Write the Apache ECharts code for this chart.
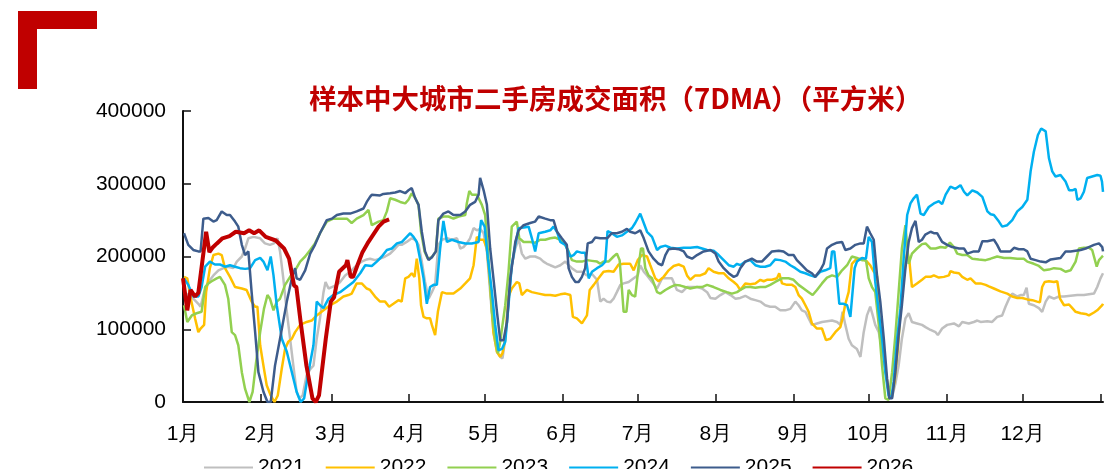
<!DOCTYPE html>
<html>
<head>
<meta charset="utf-8">
<script src="https://cdn.jsdelivr.net/npm/echarts@6/dist/echarts.min.js"></script>
<style>
  html, body { margin: 0; padding: 0; background: #fff; }
  #area { width: 1109px; height: 469px; }
</style>
</head>
<body>
<div id="area"></div>
<script>
// x = day of year, y = 平方米
const monthStarts = [0, 31, 59, 90, 120, 151, 181, 212, 243, 273, 304, 334];
const monthNames = ['1月', '2月', '3月', '4月', '5月', '6月', '7月', '8月', '9月', '10月', '11月', '12月'];
const yearNames = ['2021', '2022', '2023', '2024', '2025', '2026'];
const yearColors = ['#BFBFBF', '#FFC000', '#92D050', '#00B0F0', '#3D5C8C', '#C00000'];

const d2021 = [[0.4,151000],[2.1,147000],[4.1,142000],[6.1,135000],[7,131000],[8.4,151000],[10.1,165000],[12.1,174000],[14.1,181000],[16.1,184000],[18,186000],[20,184000],[21.4,193000],[23.4,200000],[24.7,211000],[26,225000],[28,227000],[30.7,225000],[32.6,218000],[34.6,216000],[36.2,218000],[37.6,225000],[38.6,207000],[39.9,170000],[41.3,124000],[42.6,87000],[43.9,50000],[45.2,14000],[46.3,5000],[47.6,9000],[49.2,37000],[50.8,46000],[51.9,50000],[53.2,87000],[54.5,115000],[55.9,151000],[56.7,165000],[57.9,156000],[59.2,158000],[61.2,161000],[62.5,165000],[64.5,174000],[66.5,179000],[68.5,186000],[71.1,193000],[73.1,196000],
  [74.4,197000],[76.4,195000],[78.4,197000],[80.4,200000],[82.4,204000],[84.4,211000],[85.7,216000],[87,216000],[89,220000],[91,225000],[92.4,223000],[93.7,216000],[95,193000],[96.3,165000],[97.7,142000],[99,151000],[100.3,161000],[101.6,216000],[103,223000],[105,225000],[107,223000],[109,225000],[110.3,211000],[111.6,213000],[112.9,218000],[114.2,225000],[115.6,239000],[116.9,236000],[118.2,238000],[119.6,232000],[120.9,207000],[122.2,151000],[123.5,96000],[124.9,69000],[126.2,62000],[127.1,60000],[128.2,87000],[129.5,142000],[130.8,188000],[132.2,211000],[133.5,225000],[134.8,204000],[136.2,197000],[138.1,200000],[140.1,200000],[142.1,197000],[143.4,193000],[144.8,190000],[146.1,188000],
  [148.1,185000],[150.1,188000],[152.1,193000],[153.4,188000],[154.7,184000],[156.7,179000],[158.7,179000],[160.7,174000],[162.7,176000],[164.7,168000],[166,138000],[167.3,142000],[168.7,138000],[170,137000],[171.3,142000],[172.6,151000],[174,161000],[175.3,163000],[177.3,165000],[179.3,170000],[180.9,174000],[181.9,188000],[183.3,179000],[184.6,174000],[186.6,165000],[188.6,156000],[190.6,170000],[192.5,170000],[194.5,170000],[196.5,154000],[198.5,151000],[200.5,158000],[202.5,158000],[204.5,158000],[206.5,156000],[208.5,151000],[209.8,143000],[211.8,142000],[213.8,147000],[215.8,151000],[217.8,147000],[219.8,142000],
  [221.7,143000],[223.7,146000],[225.7,142000],[227.7,140000],[229.7,138000],[231.6,133000],[233.6,131000],[235.6,131000],[237.6,126000],[239.6,126000],[241.6,128000],[243.6,138000],[244.9,133000],[246.2,126000],[247.6,124000],[248.9,115000],[250.2,106000],[252.2,108000],[254.2,110000],[256.2,111000],[258.2,112000],[260.2,110000],[261.5,106000],[262.4,124000],[263.5,106000],[264.8,87000],[266.1,78000],[268.1,73000],[269.5,62000],[270.8,96000],[272.1,119000],[273.4,131000],[274.4,119000],[275.4,106000],[276.8,96000],[278.1,73000],[279.4,46000],[280.7,14000],[282.1,7000],[283.4,25000],[284.7,50000],[286,87000],[287.4,115000],[288.7,122000],[290,110000],[292,108000],[294,106000],
  [295.4,103000],[297.4,99000],[299.4,96000],[300.3,92000],[302,101000],[304,106000],[306.7,108000],[308.7,104000],[310,110000],[312.6,108000],[314.6,110000],[316,112000],[317.3,110000],[320,111000],[321.9,110000],[323.9,117000],[325.9,119000],[327.2,131000],[328.6,142000],[329.9,149000],[331.9,145000],[333.2,147000],[334.5,147000],[335.6,157000],[336.5,135000],[338.5,133000],[340.5,129000],[341.8,124000],[343.2,138000],[344.5,145000],[346.5,142000],[348.5,145000],[350.5,145000],[353.1,146000],[355.8,147000],[358.4,147000],[360.4,148000],[362.4,149000],[363.7,158000],[365,170000],[366,177000]];

const d2022 = [[0.4,172000],[1.7,170000],[3.1,142000],[4.8,115000],[6.1,96000],[7,101000],[8.4,106000],[9.2,151000],[10.7,184000],[12.1,202000],[14.1,204000],[15.4,202000],[16.7,184000],[18.7,172000],[20.7,158000],[23.4,156000],[25.3,154000],[27.3,138000],[28.7,131000],[29.6,131000],[30.7,78000],[32,50000],[33.3,23000],[34.9,9000],[36.4,0],[37.7,9000],[39.3,46000],[40.6,73000],[41.9,83000],[43.3,87000],[44.6,96000],[46.6,106000],[49.2,110000],[51.2,112000],[53.2,119000],[55.9,126000],[58.5,133000],[61.2,138000],[63.8,145000],[65.8,147000],[67.1,149000],[69.1,163000],[71.1,163000],[73.1,156000],
  [74.4,154000],[76.4,145000],[78.4,138000],[80.4,138000],[82,131000],[83.7,135000],[85.7,140000],[87,138000],[88.4,170000],[89.7,172000],[91,177000],[92.1,172000],[93,197000],[94,170000],[94.7,133000],[95.7,117000],[97,115000],[98.3,115000],[99,106000],[100.3,92000],[101.4,124000],[103,151000],[105,149000],[107.6,149000],[110.3,156000],[112.3,163000],[114.2,170000],[115.6,188000],[116.9,227000],[118.2,223000],[119.6,223000],[120.9,211000],[122.2,161000],[123.5,96000],[124.9,69000],[126.2,62000],[127.1,67000],[128.2,87000],[129.5,145000],[130.8,156000],[132.8,165000],[133.8,163000],[134.8,147000],[136.8,154000],[138.8,151000],[141.5,149000],[144.1,147000],[146.1,147000],
  [148.1,146000],[150.1,148000],[152.1,149000],[154.1,147000],[155.1,117000],[156.7,115000],[158.7,108000],[160.7,119000],[161.8,154000],[163.4,161000],[165.3,170000],[167.3,179000],[169.3,180000],[171.3,179000],[173.3,189000],[175.3,190000],[177.9,190000],[179.3,181000],[180.9,195000],[182.6,202000],[184.6,200000],[185.9,188000],[187.9,170000],[189.2,166000],[191.2,172000],[193.2,181000],[195.2,187000],[197.2,189000],[199.2,186000],[200.5,174000],[201.8,168000],[203.8,174000],[205.8,174000],[207.8,177000],[209.1,184000],[211.1,179000],[213.1,177000],[215.1,177000],[217.1,170000],[219.1,165000],[220.4,161000],
  [221.7,154000],[223.7,163000],[225.7,162000],[227.7,163000],[229.7,168000],[231,166000],[232.3,168000],[234.3,168000],[236.3,170000],[237.2,177000],[238.3,163000],[240.3,161000],[242.3,161000],[243.6,158000],[244.9,147000],[246.2,142000],[247.6,133000],[248.9,124000],[250.2,108000],[252.2,101000],[254.2,101000],[255.8,85000],[257.5,87000],[259.5,96000],[261.5,103000],[262.4,115000],[263.5,135000],[264.8,151000],[266.1,190000],[267.5,195000],[269.5,197000],[270.8,196000],[272.1,193000],[273.4,188000],[274.8,179000],[276.1,174000],[277,115000],[278.1,87000],[279.4,46000],[280.7,14000],[281.8,5000],[283.1,28000],[284.5,78000],[285.4,124000],[286.7,170000],[288.1,207000],[289,193000],[290,158000],[292,163000],[294,168000],
  [295.4,172000],[297.4,172000],[298.7,174000],[300.7,171000],[302.7,172000],[304.7,174000],[305.3,180000],[306.7,178000],[308.7,177000],[310,172000],[312,168000],[313.3,170000],[315.3,163000],[317.3,163000],[319.3,161000],[320.6,159000],[322.6,156000],[325.2,152000],[327.9,149000],[329.9,145000],[331.9,143000],[333.9,143000],[335.9,141000],[337.9,140000],[339.8,138000],[340.9,137000],[341.8,158000],[342.8,165000],[344.5,166000],[346.5,165000],[347.8,166000],[348.9,142000],[350.5,133000],[352.5,134000],[353.8,129000],[355.1,124000],[357.1,122000],[359.1,121000],[360.4,119000],[362.4,123000],[363.7,126000],[365.7,133000],[366,135000]];

const d2023 = [[0.4,133000],[1.7,110000],[3.5,119000],[5.4,122000],[7.4,124000],[8.8,158000],[10.1,163000],[11.4,166000],[13.4,170000],[14.7,172000],[16.7,161000],[18,142000],[19.4,96000],[20.7,92000],[22,78000],[23.4,41000],[24.7,18000],[26.4,0],[27.7,14000],[29.1,55000],[30.7,96000],[32.2,128000],[33.6,147000],[34.6,142000],[36,126000],[37.3,138000],[38.6,142000],[40.6,161000],[42.6,172000],[44.6,181000],[46.6,193000],[48.6,200000],[50.6,209000],[52.5,218000],[54.5,232000],[57.2,248000],[59.8,252000],[62.5,252000],[65.2,252000],[67.1,246000],[69.1,252000],[71.8,257000],[73.8,264000],
  [75.1,243000],[77.8,248000],[79.7,250000],[81.1,262000],[82.4,280000],[84.4,278000],[86.4,275000],[88.4,273000],[89.7,278000],[91,287000],[92.4,280000],[93.7,271000],[94.7,234000],[96.1,207000],[97.4,197000],[99,199000],[100.6,207000],[101.6,252000],[103.6,255000],[105.6,255000],[107.6,252000],[109.6,255000],[112.3,257000],[112.9,273000],[113.9,290000],[114.9,285000],[116.9,285000],[118.9,271000],[120.2,257000],[121.6,193000],[122.9,124000],[124.2,87000],[125.3,67000],[126.2,83000],[127.1,106000],[128.2,133000],[129.5,179000],[130.8,241000],[132.8,248000],[133.8,225000],[135.5,220000],[138.1,220000],[140.1,219000],[142.1,223000],[144.1,223000],[146.1,225000],
  [148.1,226000],[150.1,223000],[152.1,216000],[153.4,207000],[154.7,195000],[156.7,193000],[158.7,193000],[160.7,195000],[162.7,194000],[164.7,193000],[166,190000],[167.3,193000],[169.3,193000],[171.3,200000],[172.6,204000],[173.7,195000],[174.6,156000],[175.3,124000],[176.4,124000],[177.3,154000],[178.6,147000],[179.9,145000],[181.3,188000],[182.2,211000],[183,211000],[183.9,184000],[185.2,174000],[186.6,170000],[188.6,151000],[189.9,149000],[191.9,154000],[193.9,158000],[195.9,161000],[197.9,160000],[199.8,158000],[201.8,156000],[204.5,158000],[206.5,158000],[208.5,161000],[211.1,158000],[213.8,154000],[216.4,151000],[218.4,149000],[220.4,151000],
  [221.7,154000],[223.7,158000],[225.7,158000],[227.7,157000],[229.7,158000],[231.6,158000],[233.6,161000],[235.6,165000],[238.3,170000],[240.9,170000],[242.9,168000],[244.9,161000],[246.9,156000],[248.9,151000],[250.5,147000],[252.2,154000],[254.2,163000],[256.2,171000],[258.2,174000],[260.2,172000],[262.2,181000],[264.2,188000],[266.1,200000],[268.1,198000],[270.1,195000],[271.7,195000],[272.8,170000],[274.1,158000],[275.4,151000],[276.8,106000],[278.1,50000],[279.4,5000],[280.7,3000],[282.1,41000],[283.4,92000],[284.7,151000],[286,211000],[287.4,243000],[288.7,190000],[290,204000],[292,211000],[294,217000],
  [295.4,218000],[297.4,211000],[299.4,211000],[301.4,213000],[303.4,212000],[305.1,219000],[306.7,213000],[308,204000],[310,202000],[312,202000],[314,197000],[316.6,196000],[319.3,195000],[321.3,197000],[323.9,200000],[326.6,198000],[329.2,198000],[331.9,197000],[334.5,197000],[335.9,193000],[338.5,190000],[340.5,187000],[342.5,181000],[344.5,182000],[346.5,184000],[349.1,183000],[351.1,179000],[353.1,181000],[355.1,193000],[356.4,211000],[358.4,212000],[360.4,212000],[361.7,209000],[363.5,186000],[364.4,195000],[365.7,200000],[366,201000]];

const d2024 = [[0.4,170000],[2.1,161000],[4.1,145000],[6.1,145000],[7.4,158000],[8.8,186000],[10.7,193000],[12.7,189000],[14.7,189000],[16.7,186000],[18.7,188000],[20.7,186000],[22.7,184000],[24.7,183000],[26.7,184000],[28.7,195000],[30.7,198000],[32,193000],[33.6,181000],[34.9,200000],[36,174000],[37.3,133000],[39.3,87000],[41.3,69000],[43.3,41000],[45.2,14000],[46.8,0],[48.2,5000],[49.9,41000],[51.9,78000],[53.2,138000],[54.5,133000],[55.9,129000],[57.9,142000],[59.8,147000],[62.5,151000],[65.2,158000],[67.8,165000],[70.5,177000],[72.5,188000],
  [75.1,187000],[77.1,193000],[79.1,200000],[81.1,209000],[83.1,211000],[85.1,218000],[87.1,220000],[89,227000],[90.4,232000],[91.7,227000],[93,220000],[94.3,197000],[95.7,170000],[97,135000],[98.3,158000],[99.7,161000],[101,161000],[102.3,211000],[103.6,249000],[105,220000],[107,223000],[109.6,220000],[112.3,218000],[114.9,218000],[117.6,220000],[118.6,250000],[120,241000],[121.3,197000],[122.9,151000],[124.2,106000],[125.5,71000],[126.9,73000],[128.2,83000],[129.5,133000],[130.8,188000],[132.2,216000],[133.5,239000],[135.5,240000],[137.5,241000],[138.8,225000],[140.1,207000],[141.5,232000],[144.1,234000],[146.1,236000],
  [147.4,241000],[148.8,234000],[150.1,220000],[152.1,216000],[154.1,200000],[155.4,202000],[156.7,207000],[158.7,205000],[160,205000],[161.4,170000],[162.7,179000],[164.7,184000],[166.7,188000],[168,193000],[168.9,235000],[170.6,232000],[172.6,227000],[174.6,229000],[176.6,234000],[178.6,239000],[179.9,246000],[181.9,259000],[183.3,246000],[184.6,234000],[186.6,227000],[188.6,209000],[189.9,213000],[191.9,215000],[193.9,212000],[196.5,211000],[199.2,212000],[201.8,212000],[204.5,213000],[206.5,211000],[208.5,209000],[211.1,208000],[213.1,202000],[215.1,195000],[217.1,188000],[219.1,186000],[220.4,190000],
  [221.7,188000],[223.7,193000],[225.7,195000],[227.7,188000],[229.7,186000],[231.6,186000],[233.6,188000],[235.6,196000],[237.6,195000],[239.6,193000],[241.6,188000],[243.6,184000],[245.6,179000],[247.6,177000],[249.6,174000],[251.5,172000],[253.5,179000],[255.5,181000],[257.5,184000],[258.2,207000],[259.1,207000],[260.2,170000],[261.1,135000],[262.8,135000],[264.2,133000],[265.5,117000],[266.1,119000],[267.2,184000],[268.1,193000],[270.1,198000],[271.7,197000],[272.8,227000],[274.1,220000],[275.4,165000],[276.8,124000],[278.1,87000],[279.4,41000],[280.7,9000],[281.8,5000],[282.7,28000],[284.1,87000],[285.4,128000],[286.7,197000],[288.1,257000],[289.4,273000],[290.7,280000],[292,285000],[293.4,259000],[294.7,257000],
  [296.7,268000],[298.7,273000],[300.7,276000],[302,272000],[303.4,285000],[305.3,296000],[307.3,293000],[309.3,298000],[310.7,289000],[312,284000],[314,291000],[316,288000],[318,282000],[320,262000],[321.3,258000],[322.6,257000],[324.6,248000],[325.9,241000],[327.9,243000],[329.9,250000],[331.9,262000],[333.9,268000],[335.9,278000],[336.5,280000],[337.2,317000],[338.5,344000],[340.1,367000],[341.4,376000],[343.2,372000],[344.5,335000],[345.8,317000],[347.1,310000],[349.1,312000],[351.1,303000],[352.5,291000],[353.8,291000],[355.1,293000],[355.8,278000],[357.1,280000],[358.4,289000],[359.7,308000],[361.7,310000],[363.7,312000],[365,311000],[365.6,303000],[366,289000]];

const d2025 = [[0.4,232000],[2.1,216000],[4.1,209000],[6.1,207000],[7,207000],[8.1,252000],[10.1,253000],[12.1,248000],[13.4,250000],[15.4,262000],[17.4,257000],[18.7,257000],[20.7,248000],[22,241000],[23.4,216000],[24.7,202000],[26,207000],[27.3,151000],[28.7,96000],[30,41000],[32,14000],[33.6,0],[34.9,0],[36.6,50000],[38.6,87000],[41.3,138000],[43.3,170000],[44.6,184000],[45.2,170000],[46.6,168000],[48.6,181000],[50.6,204000],[52.5,216000],[54.5,232000],[57.2,250000],[59.2,252000],[61.2,257000],[63.8,259000],[66.5,259000],[69.1,262000],[71.8,266000],[73.1,275000],
  [74.4,282000],[75.1,285000],[78.4,284000],[79.7,286000],[82.4,287000],[84.4,288000],[86.4,290000],[88.4,287000],[89.7,291000],[91,294000],[92.4,280000],[93.7,271000],[95,234000],[96.3,207000],[97.7,195000],[99,199000],[100.6,207000],[101.6,250000],[103.6,259000],[105.6,262000],[107.6,257000],[110.3,257000],[112.3,262000],[114.2,271000],[116.2,275000],[117.6,285000],[118.2,308000],[119.6,291000],[120.9,271000],[122.2,211000],[123.5,170000],[124.9,124000],[126.2,85000],[127.5,85000],[128.9,110000],[130.2,170000],[132.2,220000],[133.5,236000],[135.5,243000],[138.1,246000],[140.1,248000],[141.5,255000],[144.1,252000],[146.1,250000],
  [147.4,250000],[148.8,234000],[150.7,225000],[152.7,216000],[153.4,184000],[154.7,172000],[156.1,165000],[157.4,165000],[158.7,172000],[160,184000],[161,218000],[162.7,220000],[164,226000],[166,225000],[168.7,225000],[170.6,232000],[172.6,232000],[174.6,234000],[176.6,238000],[177.9,234000],[179.9,232000],[181.9,236000],[183.3,225000],[185.2,207000],[187.2,197000],[189.2,190000],[190.6,188000],[191.9,202000],[193.2,210000],[195.2,211000],[197.2,210000],[199.2,207000],[200.5,200000],[202.5,197000],[204.5,202000],[207.1,207000],[209.8,209000],[211.8,204000],[213.1,193000],[215.1,184000],[217.1,177000],[219.1,172000],[220.4,174000],
  [221.7,184000],[223.7,193000],[226.3,197000],[228.3,193000],[230.3,193000],[232.3,200000],[234.3,207000],[237,208000],[238.9,207000],[240.9,202000],[242.9,202000],[244.2,195000],[246.2,188000],[248.2,181000],[250.2,177000],[251.5,172000],[253.5,181000],[254.9,190000],[256.2,211000],[258.2,216000],[260.2,219000],[262.2,220000],[263.5,209000],[265.5,211000],[267.5,216000],[269.5,218000],[270.8,218000],[272.1,241000],[273.4,232000],[274.8,223000],[276.1,174000],[277.4,138000],[278.8,87000],[280.1,32000],[281,5000],[282.1,5000],[283.4,41000],[284.7,92000],[286,133000],[287.4,184000],[288.7,220000],[290,239000],[291.4,249000],[292.7,220000],[294,223000],[295.3,230000],
  [297.4,234000],[298.7,232000],[300,232000],[302,220000],[304,216000],[306,213000],[308.7,211000],[310.7,211000],[312,204000],[314.6,207000],[316.6,207000],[318,221000],[320,221000],[322.6,223000],[323.9,216000],[325.2,207000],[327.2,207000],[329.2,207000],[330.6,212000],[332.5,210000],[334.5,210000],[335.9,207000],[337.2,197000],[339.2,195000],[341.2,193000],[343.2,192000],[345.2,196000],[347.1,197000],[349.1,198000],[351.1,207000],[353.1,207000],[355.1,208000],[357.1,209000],[359.1,211000],[360.4,213000],[362.4,216000],[364.4,218000],[365.7,213000],[366,207000]];

const d2026 = [[0,170000],[1.7,126000],[3,154000],[4.8,145000],[6.1,150000],[9.2,234000],[10.5,206000],[11.7,212000],[13.5,218000],[15.7,225000],[18.5,228000],[21,234000],[24.3,232000],[26.3,236000],[28.3,232000],[30.3,236000],[32.9,227000],[36.9,222000],[40.2,211000],[42.2,197000],[44.2,160000],[45.1,158000],[46.8,110000],[49.1,50000],[51.5,5000],[52.8,0],[54.1,9000],[56.8,87000],[58.8,138000],[60.1,144000],[62.1,179000],[64.8,188000],[65.4,195000],[66.7,172000],[67.7,172000],[69.4,188000],[71.4,206000],[73.4,218000],[75.1,227000],[77.8,241000],[79.8,248000],[82,251000]];

const yearData = [d2021, d2022, d2023, d2024, d2025, d2026];

let chart = echarts.init(document.getElementById('area'));

const axisFont = {
  color: '#000',
  fontSize: 21,
  fontFamily: 'Liberation Sans, Arial, sans-serif',
};

let seriesList = yearNames.map((name, i) => ({
  name: name,
  type: 'line',
  symbol: 'none',
  showSymbol: false,
  data: yearData[i],
  lineStyle: {
    color: yearColors[i],
    width: i === 5 ? 4 : 2.5,
  },
  itemStyle: {
    color: yearColors[i],
  },
}));

let option = {
  animation: false,
  backgroundColor: '#fff',
  title: {
    text: '样本中大城市二手房成交面积（7DMA）（平方米）',
    left: 304,
    top: 80,
    textStyle: {
      color: '#C00000',
      fontSize: 27.5,
      fontWeight: 'bold',
      fontFamily: 'Noto Sans CJK SC',
    },
  },
  graphic: [
    { type: 'rect', shape: { x: 18, y: 11, width: 79, height: 18 }, style: { fill: '#C00000' } },
    { type: 'rect', shape: { x: 18, y: 11, width: 19, height: 78 }, style: { fill: '#C00000' } },
  ],
  legend: {
    left: 198,
    top: 452,
    itemWidth: 49,
    itemHeight: 14,
    itemGap: 20,
    data: yearNames,
    itemStyle: { opacity: 0 },
    textStyle: axisFont,
  },
  grid: {
    top: 111,
    left: 183,
    right: 6,
    bottom: 67,
  },
  xAxis: {
    type: 'value',
    min: 0,
    max: 366,
    splitLine: { show: false },
    axisLine: { lineStyle: { color: '#111', width: 2 } },
    axisTick: {
      inside: true,
      length: 8,
      customValues: monthStarts.concat([365]),
      lineStyle: { color: '#111', width: 1.5 },
    },
    axisLabel: {
      customValues: monthStarts,
      margin: 22,
      formatter: (v) => monthNames[monthStarts.indexOf(v)] || '',
      ...axisFont,
    },
  },
  yAxis: {
    type: 'value',
    min: 0,
    max: 400000,
    interval: 100000,
    splitLine: { show: false },
    axisLine: { show: true, lineStyle: { color: '#111', width: 2 } },
    axisTick: { show: true, inside: true, length: 8, lineStyle: { color: '#111', width: 1.5 } },
    axisLabel: {
      margin: 17,
      formatter: (v) => String(v),
      ...axisFont,
    },
  },
  series: seriesList,
};

chart.setOption(option);
</script>
</body>
</html>
